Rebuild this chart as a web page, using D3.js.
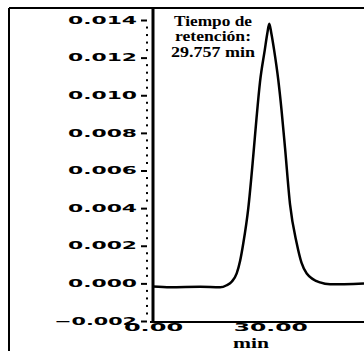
<!DOCTYPE html>
<html lang="es">
<head>
<meta charset="UTF-8">
<title>Cromatograma</title>
<script src="https://d3js.org/d3.v7.min.js"></script>
<style>
  body { margin: 0; background: #fff; }
  .tick text { font-family: "DejaVu Sans", sans-serif; font-weight: bold; font-size: 10px; fill: #000; }
  .note { font-family: "Liberation Serif", serif; font-weight: bold; font-size: 15px; fill: #000; }
</style>
</head>
<body>
<svg id="main" width="364" height="351"></svg>
<script>
  // retention curve (min, absorbance)
  const timeMin = [0, 4.4, 12.1, 17.15, 18.86, 20.2, 21.42, 22.3, 23.11, 24.39, 25.67, 26.5, 27.38, 28.6, 29.26, 29.76,
                   30.28, 31.0, 32.07, 32.9, 33.79, 35.07, 36.78, 38.0, 39.34, 42.74, 45.3, 54];
  const absorb = [-0.00016, -0.0002, -0.00018, -0.00021, -0.0001, 0.0001, 0.00053, 0.0012, 0.00213, 0.0040, 0.0068, 0.0088, 0.0107, 0.0124, 0.0133, 0.0138,
                  0.0133, 0.0124, 0.0108, 0.0092, 0.0072, 0.0042, 0.00213, 0.0011, 0.00053, 0.00005, -0.00005, 0.0];
  const yTicks = [-0.002, 0, 0.002, 0.004, 0.006, 0.008, 0.010, 0.012, 0.014];
  const xTicks = [0, 30];
  const noteLines = ["Tiempo de", "retención:", "29.757 min"];
  const xTitle = "min";

  let svg = d3.select('svg#main');
  let x = d3.scaleLinear().domain([0, 54]).range([153, 364]);
  let y = d3.scaleLinear().domain([-0.002, 0.014]).range([321, 20]);

  // frame: top + left border
  svg.append('line').attr('x1', 9).attr('x2', 364).attr('y1', 8).attr('y2', 8)
      .attr('stroke', '#000').attr('stroke-width', 2);
  svg.append('line').attr('x1', 9).attr('x2', 9).attr('y1', 8).attr('y2', 351)
      .attr('stroke', '#000').attr('stroke-width', 2);

  // y axis
  let yAxis = svg.append('g').attr('transform', 'translate(153,0)')
      .call(d3.axisLeft(y).tickValues(yTicks).tickSize(0).tickPadding(16)
          .tickFormat(d => d3.format('.3f')(d)));
  yAxis.select('.domain').remove();
  yAxis.selectAll('.tick text').each(function () {
      let t = d3.select(this);
      t.attr('textLength', t.text().length * 13.8).attr('lengthAdjust', 'spacingAndGlyphs');
  });
  yAxis.selectAll('.tick').append('line')
      .attr('x1', -12).attr('x2', -6).attr('stroke', '#000').attr('stroke-width', 2);
  let minor = d3.range(-0.002, 0.01401, 0.0004).filter(v => Math.abs(v / 0.002 - Math.round(v / 0.002)) > 0.01);
  yAxis.selectAll('rect.minor').data(minor).enter().append('rect').attr('class', 'minor')
      .attr('x', -7).attr('y', d => y(d) - 1).attr('width', 2).attr('height', 2).attr('fill', '#000');
  svg.append('line').attr('x1', 153).attr('x2', 153).attr('y1', 8).attr('y2', 323)
      .attr('stroke', '#000').attr('stroke-width', 3);

  // x axis
  let xAxis = svg.append('g').attr('transform', 'translate(0,322)')
      .call(d3.axisBottom(x).tickValues(xTicks).tickSize(0).tickPadding(2)
          .tickFormat(d => d3.format('.2f')(d)));
  xAxis.select('.domain').remove();
  xAxis.selectAll('.tick text').each(function () {
      let t = d3.select(this);
      t.attr('textLength', t.text().length * 14.8).attr('lengthAdjust', 'spacingAndGlyphs');
  });
  svg.append('line').attr('x1', 150).attr('x2', 364).attr('y1', 322).attr('y2', 322)
      .attr('stroke', '#000').attr('stroke-width', 2);
  svg.append('text').attr('class', 'note').attr('x', 251).attr('y', 348)
      .attr('text-anchor', 'middle').attr('textLength', 36).attr('lengthAdjust', 'spacingAndGlyphs')
      .text(xTitle);

  // trace
  let line = d3.line().x(d => x(d[0])).y(d => y(d[1])).curve(d3.curveMonotoneX);
  svg.append('path').datum(d3.zip(timeMin, absorb))
      .attr('d', line).attr('fill', 'none').attr('stroke', '#000').attr('stroke-width', 2.5);

  // retention note
  const noteLen = [78, 76, 84];
  svg.selectAll('text.note-line').data(noteLines).enter().append('text')
      .attr('class', 'note note-line')
      .attr('x', 213).attr('y', (d, i) => 26 + i * 15.3)
      .attr('text-anchor', 'middle')
      .attr('textLength', (d, i) => noteLen[i]).attr('lengthAdjust', 'spacingAndGlyphs')
      .text(d => d);
</script>
</body>
</html>
